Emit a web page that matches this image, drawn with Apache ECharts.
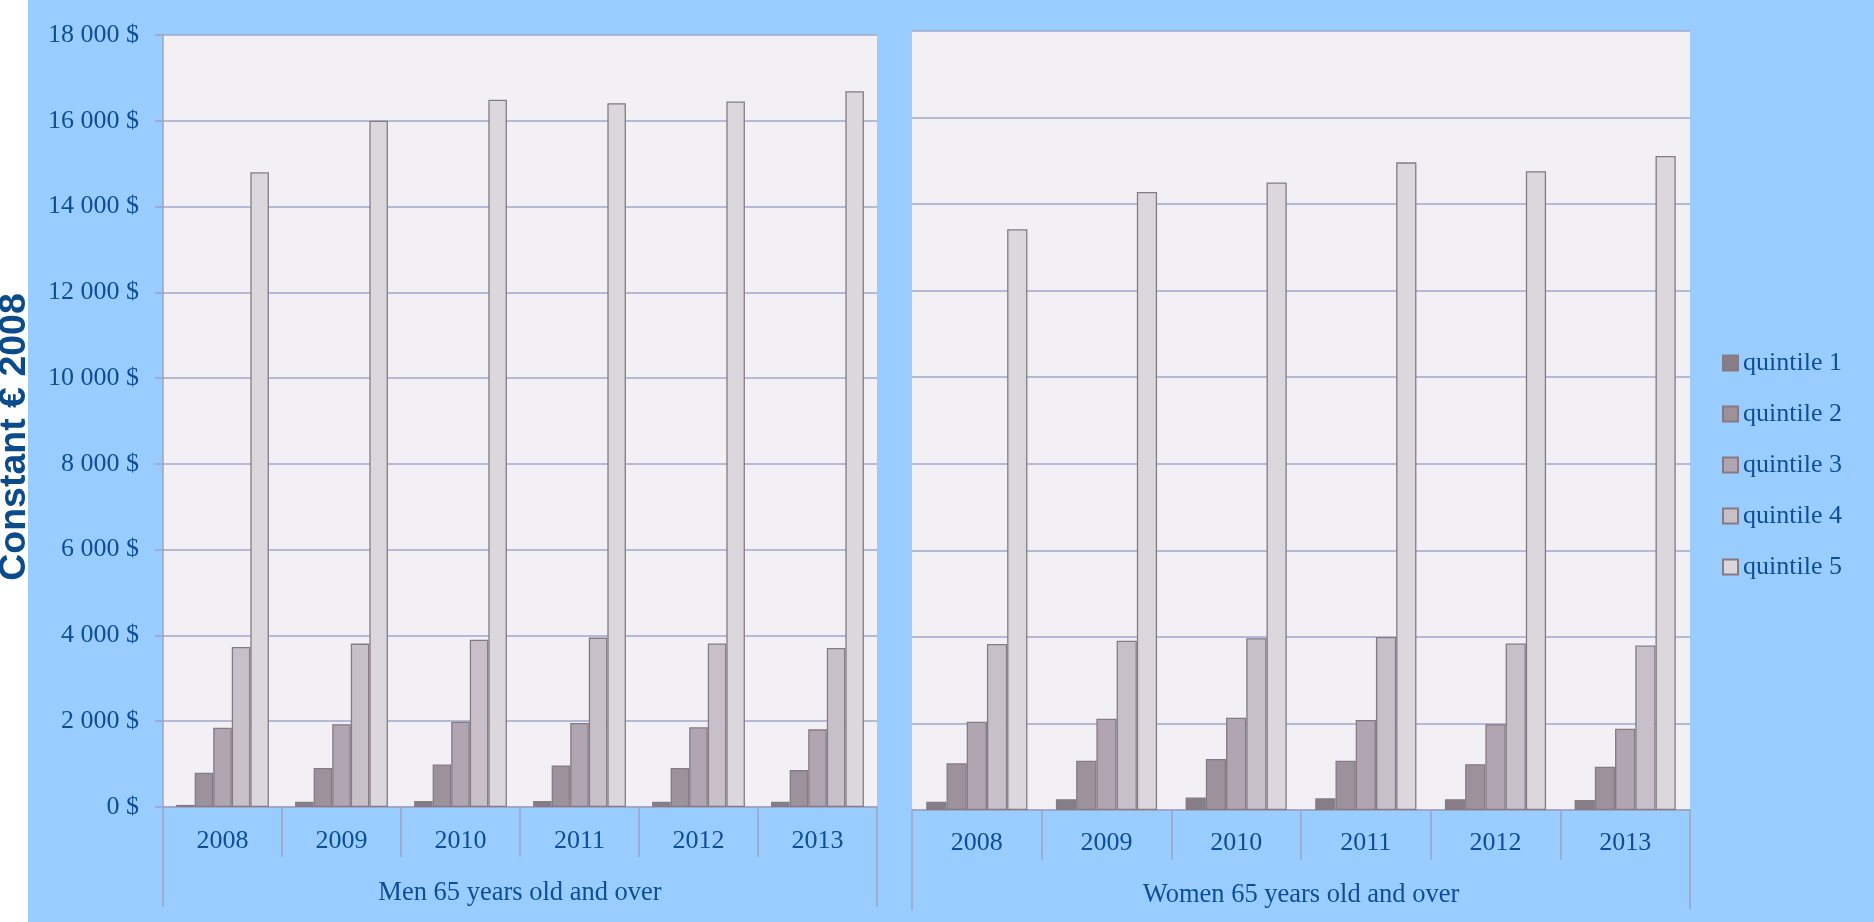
<!DOCTYPE html>
<html>
<head>
<meta charset="utf-8">
<script src="https://cdn.jsdelivr.net/npm/echarts@6/dist/echarts.min.js"></script>
<style>
html,body{margin:0;padding:0;background:#ffffff;}
#c{width:1874px;height:922px;background:linear-gradient(to right,#ffffff 0px,#ffffff 28px,#99ccff 28px,#99ccff 100%);}
</style>
</head>
<body>
<div id="c"></div>
<script>
const years = ['2008','2009','2010','2011','2012','2013'];
const quintiles = ['quintile 1','quintile 2','quintile 3','quintile 4','quintile 5'];
const groupMen = ['Men 65 years old and over'];
const groupWomen = ['Women 65 years old and over'];

const menQ1 = [50, 120, 140, 140, 120, 120];
const menQ2 = [800, 910, 990, 970, 910, 860];
const menQ3 = [1850, 1930, 1990, 1960, 1860, 1810];
const menQ4 = [3730, 3810, 3900, 3950, 3815, 3710];
const menQ5 = [14800, 16000, 16490, 16410, 16450, 16690];

const womenQ1 = [190, 250, 290, 270, 250, 230];
const womenQ2 = [1080, 1140, 1180, 1140, 1060, 1000];
const womenQ3 = [2040, 2110, 2130, 2080, 1980, 1880];
const womenQ4 = [3835, 3910, 3970, 4000, 3850, 3800];
const womenQ5 = [13420, 14280, 14500, 14965, 14760, 15110];

const yTitle = 'Constant € 2008';

const colors = ['#877d86', '#9d929c', '#b0a5b0', '#c7c0c8', '#dcd7dc'];
const txt = '#0c4f98';
const gridCol = '#9fa7ca';
const axisCol = '#9ea3c2';
const serif = 'Liberation Serif';

function fmt(v){
  const s = String(v).replace(/\B(?=(\d{3})+(?!\d))/g, ' ');
  return s + ' $';
}

const menData = [menQ1, menQ2, menQ3, menQ4, menQ5];
const womenData = [womenQ1, womenQ2, womenQ3, womenQ4, womenQ5];

const series = [];
menData.forEach((d, i) => series.push({
  name: quintiles[i], type: 'bar', xAxisIndex: 0, yAxisIndex: 0, data: d,
  barGap: '0%', barCategoryGap: '22%',
  itemStyle: {color: colors[i], borderColor: '#847b85', borderWidth: 1.3}
}));
womenData.forEach((d, i) => series.push({
  name: quintiles[i], type: 'bar', xAxisIndex: 2, yAxisIndex: 1, data: d,
  barGap: '0%', barCategoryGap: '22%',
  itemStyle: {color: colors[i], borderColor: '#847b85', borderWidth: 1.3}
}));

function catAxis(gi, data, margin){
  return {
    type: 'category', gridIndex: gi, data: data, position: 'bottom',
    axisLine: {show: true, lineStyle: {color: axisCol, width: 1.5}},
    axisTick: {show: true, length: 50, lineStyle: {color: axisCol, width: 1.5}},
    axisLabel: {margin: margin, fontFamily: serif, fontSize: 26, color: txt}
  };
}
function grpAxis(gi, data, margin){
  return {
    type: 'category', gridIndex: gi, data: data, position: 'bottom', offset: 50,
    axisLine: {show: false},
    axisTick: {show: true, length: 50, lineStyle: {color: axisCol, width: 1.5}},
    axisLabel: {margin: margin, fontFamily: serif, fontSize: 26.5, color: txt}
  };
}

const option = {
  backgroundColor: 'transparent',
  animation: false,
  grid: [
    {left: 163, top: 35, width: 714, height: 772, show: true, backgroundColor: '#f2f0f4', borderWidth: 0},
    {left: 912, top: 31, width: 778, height: 779, show: true, backgroundColor: '#f2f0f4', borderWidth: 0}
  ],
  xAxis: [
    catAxis(0, years, 21),
    grpAxis(0, groupMen, 23),
    catAxis(1, years, 20),
    grpAxis(1, groupWomen, 22)
  ],
  yAxis: [
    {
      type: 'value', gridIndex: 0, min: 0, max: 18000, interval: 2000,
      axisLine: {show: true, lineStyle: {color: axisCol, width: 1.5}},
      axisTick: {show: true, length: 8, lineStyle: {color: axisCol, width: 1.5}},
      splitLine: {show: true, lineStyle: {color: gridCol, width: 1.5}},
      axisLabel: {margin: 24, fontFamily: serif, fontSize: 26, color: txt, formatter: fmt}
    },
    {
      type: 'value', gridIndex: 1, min: 0, max: 18000, interval: 2000,
      axisLine: {show: false}, axisTick: {show: false},
      splitLine: {show: true, lineStyle: {color: gridCol, width: 1.5}},
      axisLabel: {show: false}
    }
  ],
  legend: {
    orient: 'vertical', left: 1722, top: 350, padding: 0,
    itemWidth: 15, itemHeight: 15, itemGap: 25,
    icon: 'rect',
    data: quintiles,
    textStyle: {fontFamily: serif, fontSize: 26, color: txt}
  },
  graphic: [{
    type: 'text', x: 15, y: 437, rotation: Math.PI / 2, z: 100,
    style: {text: yTitle, font: 'bold 37.5px "Liberation Sans"', fill: '#0b4a8b', align: 'center', verticalAlign: 'middle'}
  }],
  series: series
};

const chart = echarts.init(document.getElementById('c'), null, {renderer: 'canvas'});
chart.setOption(option);
</script>
</body>
</html>
